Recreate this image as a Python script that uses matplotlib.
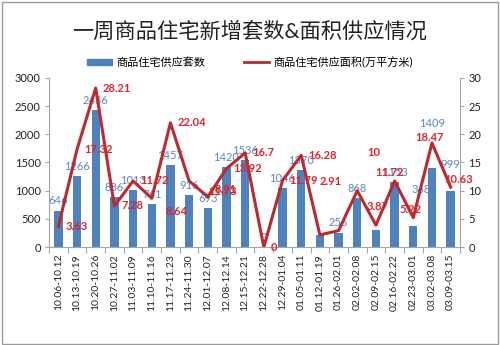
import matplotlib
matplotlib.use("Agg")
import matplotlib.pyplot as plt
from matplotlib.patches import Rectangle
from matplotlib.lines import Line2D

plt.rcParams['font.family'] = ['Lato', 'Noto Sans CJK SC', 'DejaVu Sans']

# ---- data ----
weeks = ["10.06-10.12", "10.13-10.19", "10.20-10.26", "10.27-11.02", "11.03-11.09",
         "11.10-11.16", "11.17-11.23", "11.24-11.30", "12.01-12.07", "12.08-12.14",
         "12.15-12.21", "12.22-12.28", "12.29-01.04", "01.05-01.11", "01.12-01.19",
         "01.26-02.01", "02.02-02.08", "02.09-02.15", "02.16-02.22", "02.23-03.01",
         "03.02-03.08", "03.09-03.15"]
units = [646, 1266, 2436, 886, 1013, 761, 1457, 916, 693, 1420, 1536, 0,
         1046, 1370, 220, 256, 868, 310, 1153, 368, 1409, 999]
area = [3.63, 17.32, 28.21, 7.28, 11.72, 8.64, 22.04, 11.73, 8.91, 13.92, 16.7, 0,
        11.79, 16.28, 2.16, 2.91, 10, 3.87, 11.72, 5.22, 18.47, 10.63]
show_unit_label = [True] * 22
show_unit_label[14] = False
show_unit_label[17] = False
show_area_label = [True] * 22
show_area_label[14] = False

title = "一周商品住宅新增套数&面积供应情况"
bar_name = "商品住宅供应套数"
line_name = "商品住宅供应面积(万平方米)"

# label nudges (pixels: dx, dy up)
bar_nudge = {19: (8, 27), 20: (0, 34), 21: (0, 17)}
line_nudge = {5: (7, -13), 7: (12, -11), 8: (0, 7), 15: (-26, 49), 16: (3, 38),
              17: (-16, 19), 18: (-26, 8), 19: (-21, 8), 20: (-24, 5), 21: (-13, 8)}

BLUE = "#4F81BD"
BLUE_TXT = "#5B87BC"
RED_LINE = "#BA2A2E"
RED_TXT = "#E0242B"
GRAY = "#A6A6A6"

fig = plt.figure(figsize=(5.0, 3.45), dpi=100)
fig.patches.append(Rectangle((0.004, 0.004), 0.992, 0.99, transform=fig.transFigure,
                             fill=False, edgecolor="#9A9A9A", linewidth=1.0))

ax = fig.add_axes([0.098, 0.284, 0.822, 0.49])
x = list(range(len(weeks)))
ax.bar(x, units, width=0.45, color=BLUE, zorder=2)
ax.set_xlim(-0.5, len(weeks) - 0.5)
ax.set_ylim(0, 3000)
ax.set_yticks(range(0, 3001, 500))
ax.set_xticks([i - 0.5 for i in range(len(weeks) + 1)], minor=False)
ax.set_xticklabels([])
ax.set_xticks(x, minor=True)
ax.set_xticklabels(weeks, minor=True, rotation=90, fontsize=7.5, color="#222222")
ax.tick_params(axis='x', which='minor', length=0, pad=5)
ax.tick_params(axis='x', which='major', length=4, color=GRAY, direction='out')
ax.tick_params(axis='y', length=3, color=GRAY, labelsize=8, labelcolor="#222222", pad=3)
for s in ['top', 'right']:
    ax.spines[s].set_visible(False)
for s in ['left', 'bottom']:
    ax.spines[s].set_color(GRAY)

ax2 = ax.twinx()
ax2.plot(x, area, color=RED_LINE, linewidth=2.2, zorder=3)
ax2.set_ylim(0, 30)
ax2.set_yticks(range(0, 31, 5))
ax2.tick_params(axis='y', length=3, color=GRAY, labelsize=8, labelcolor="#222222", pad=3)
for s in ['top', 'left', 'bottom']:
    ax2.spines[s].set_visible(False)
ax2.spines['right'].set_color(GRAY)

px = 0.72
for i, v in enumerate(units):
    if not show_unit_label[i]:
        continue
    dx, dy = bar_nudge.get(i, (0, 0))
    ax.annotate(str(v), (i, v), xytext=(dx * px, 3 + dy * px), textcoords='offset points',
                ha='center', va='bottom', fontsize=8, color=BLUE_TXT, zorder=4)
for i, v in enumerate(area):
    if not show_area_label[i]:
        continue
    dx, dy = line_nudge.get(i, (0, 0))
    ax2.annotate(f"{v:g}", (i, v), xytext=(5 + dx * px, dy * px), textcoords='offset points',
                 ha='left', va='center', fontsize=8, color=RED_TXT, fontweight='bold', zorder=5)

fig.text(0.5, 0.91, title, ha='center', va='center', fontsize=15.3, color="#222222")

handles = [Rectangle((0, 0), 1, 1, color=BLUE),
           Line2D([0], [0], color=RED_LINE, linewidth=2)]
fig.legend(handles, [bar_name, line_name], loc='center', bbox_to_anchor=(0.5, 0.82),
           ncol=2, frameon=False, fontsize=8, handlelength=2.2, handleheight=0.5,
           columnspacing=3.5, handletextpad=0.4)

fig.savefig("out.png", dpi=100)
